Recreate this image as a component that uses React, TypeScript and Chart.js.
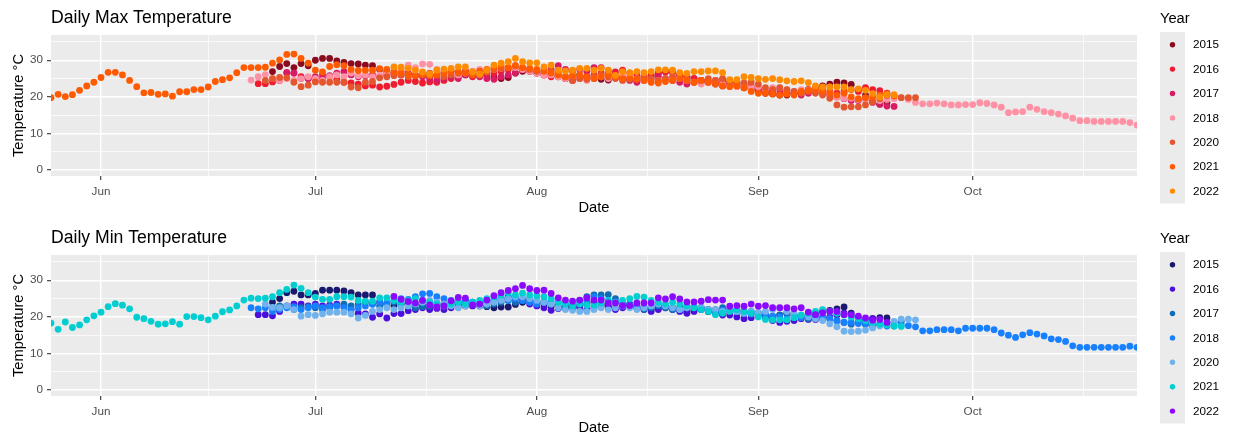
import React, { useEffect, useRef } from 'react';
import { Chart, registerables } from 'chart.js';

Chart.register(...registerables);

// ---- axis / legend labels ----
const years = ['2015', '2016', '2017', '2018', '2020', '2021', '2022'];
const maxColors = ['#8B0A1F', '#EE1C2E', '#D81B64', '#FF91A4', '#E4572E', '#FF5A00', '#FF8C00'];
const minColors = ['#191970', '#4B0FDC', '#0F6DB8', '#1780FF', '#6FB2EE', '#00CED1', '#8A0AFF'];

// x values are days counted from 1 June
const monthTickDays = [0, 30, 61, 92, 122];
const monthTickLabels = ['Jun', 'Jul', 'Aug', 'Sep', 'Oct'];
const minorTickDays = [15, 45.5, 76.5, 107, 137.5];
const tempTicks = [0, 10, 20, 30];
const tempMinorTicks = [5, 15, 25, 35];

// ---- Daily max temperature (°C), first day index then daily values ----
const max2015Start = 24;
const max2015 = [26.9, 28.3, 29.1, 28.0, 29.1, 28.5, 30.0, 30.5, 30.5, 29.8, 29.4, 29.1, 29.0, 28.7, 28.5, 27.5, 26.8, 26.5, 26.0, 26.2, 25.8, 26.0, 25.5, 25.8, 26.5, 27.0, 26.5, 27.0, 26.0, 25.8, 26.0, 25.3, 25.0, 25.3, 26.5, 27.0, 27.5, 27.0, 26.5, 26.0, 25.5, 25.0, 25.5, 26.0, 25.5, 25.0, 24.8, 24.6, 25.2, 25.5, 25.0, 24.5, 25.0, 25.8, 26.5, 27.0, 26.8, 26.0, 25.5, 25.0, 24.0, 24.2, 24.0, 23.8, 23.5, 23.0, 22.5, 22.0, 21.5, 21.0, 20.8, 20.5, 20.5, 21.0, 21.5, 22.0, 22.5, 23.0, 23.5, 24.0, 23.8, 23.4, 22.0, 20.5, 19.0, 18.0, 18.5];
const max2016Start = 22;
const max2016 = [23.6, 23.6, 24.1, 24.5, 26.5, 26.5, 25.5, 25.0, 24.5, 25.0, 25.5, 24.8, 24.0, 23.8, 23.5, 23.0, 23.2, 22.7, 22.9, 23.4, 24.0, 24.5, 24.2, 23.8, 24.1, 24.0, 24.5, 25.0, 25.5, 26.0, 25.5, 25.8, 26.0, 26.5, 27.0, 27.5, 27.8, 27.5, 27.0, 26.5, 26.0, 25.5, 25.8, 25.0, 24.5, 25.0, 25.5, 26.0, 26.5, 26.0, 26.8, 27.3, 26.5, 26.0, 25.5, 26.0, 26.5, 26.8, 27.0, 26.0, 25.5, 25.0, 24.5, 24.0, 24.5, 24.8, 24.5, 24.0, 23.5, 23.0, 22.5, 22.0, 21.5, 21.0, 20.8, 21.0, 21.5, 22.0, 22.5, 22.0, 21.5, 21.0, 21.5, 22.0, 21.5, 22.5, 22.0, 21.7, 21.0];
const max2017Start = 26;
const max2017 = [26.7, 26.5, 25.0, 25.0, 25.5, 26.0, 25.8, 26.5, 26.9, 26.0, 25.5, 25.8, 26.0, 25.5, 26.0, 26.5, 27.0, 26.5, 26.0, 25.5, 25.0, 24.5, 25.0, 25.5, 25.0, 26.0, 25.8, 25.5, 25.0, 24.8, 25.5, 26.0, 26.5, 27.5, 27.0, 26.5, 26.0, 27.5, 28.5, 27.5, 27.0, 27.5, 27.0, 28.0, 28.0, 27.0, 25.5, 25.0, 24.5, 24.0, 24.5, 25.0, 25.5, 25.0, 24.5, 24.0, 23.5, 24.0, 24.5, 24.0, 23.5, 23.0, 23.5, 23.8, 23.0, 22.5, 22.0, 21.5, 21.8, 22.0, 21.5, 21.0, 20.5, 21.0, 21.5, 21.0, 20.5, 20.0, 19.5, 19.0, 19.0, 19.5, 18.5, 18.0, 17.5, 17.4];
const max2018Start = 21;
const max2018 = [24.6, 25.5, 26.1, 25.0, 24.5, 25.0, 24.5, 25.0, 25.5, 25.0, 24.5, 25.5, 26.0, 25.5, 26.5, 25.8, 26.0, 25.5, 26.0, 26.5, 27.0, 27.5, 28.7, 28.0, 29.0, 28.9, 27.5, 27.0, 26.5, 26.0, 26.5, 27.0, 27.5, 27.0, 27.5, 27.8, 28.0, 28.0, 27.5, 27.0, 26.5, 26.0, 26.0, 25.5, 25.0, 25.5, 25.0, 24.5, 25.0, 25.5, 25.0, 25.5, 26.0, 25.5, 25.0, 24.5, 24.0, 24.5, 25.0, 25.5, 25.0, 24.5, 24.0, 23.5, 24.0, 24.5, 23.5, 23.0, 22.8, 23.0, 22.5, 22.8, 22.0, 22.5, 22.5, 22.0, 21.5, 22.0, 21.9, 21.7, 21.5, 21.0, 19.9, 19.6, 19.6, 19.3, 19.3, 19.5, 19.0, 19.3, 19.5, 19.8, 19.3, 18.5, 18.1, 18.1, 18.3, 18.1, 17.8, 17.8, 17.9, 17.9, 18.4, 18.2, 17.8, 17.2, 15.7, 15.9, 16.0, 17.2, 16.6, 16.0, 15.7, 15.3, 14.8, 14.2, 13.5, 13.5, 13.3, 13.3, 13.3, 13.3, 13.3, 13.0, 12.3];
const max2020Start = 23;
const max2020 = [24.5, 25.0, 25.3, 25.2, 24.0, 22.8, 23.2, 24.1, 24.0, 24.0, 24.0, 24.0, 22.7, 22.5, 24.0, 24.2, 25.2, 25.5, 25.8, 26.0, 25.5, 25.8, 26.0, 26.5, 26.0, 25.5, 26.0, 26.5, 27.0, 26.5, 26.0, 26.8, 27.5, 27.8, 28.0, 28.5, 28.0, 27.5, 27.0, 27.5, 27.0, 26.5, 25.5, 24.5, 25.0, 24.8, 25.5, 26.0, 25.5, 25.0, 24.5, 24.8, 25.0, 25.5, 25.0, 24.5, 25.0, 25.5, 25.0, 24.5, 24.0, 24.5, 25.0, 24.5, 25.0, 24.0, 23.5, 23.8, 24.0, 23.5, 22.5, 22.0, 22.5, 22.0, 21.5, 21.0, 21.5, 21.0, 20.5, 19.6, 17.8, 17.2, 17.3, 17.3, 17.8, 18.7, 19.5, 20.4, 20.3, 19.8, 19.8, 19.8];
const max2021Start = -7;
const max2021 = [19.8, 20.7, 20.1, 20.6, 21.8, 23.0, 24.0, 25.3, 26.7, 26.7, 26.0, 24.5, 22.8, 21.1, 21.2, 20.7, 20.8, 20.2, 21.4, 21.4, 22.0, 22.0, 22.7, 24.2, 24.7, 25.2, 26.6, 28.0, 28.0, 28.0, 28.1, 29.2, 30.1, 31.6, 31.7, 30.5, 29.2, 27.3, 26.8, 28.3, 28.8, 28.5, 27.5, 27.2, 27.3, 27.3, 27.7, 27.5, 26.8, 26.5, 26.0, 25.8, 26.2, 25.8, 26.0, 26.5, 27.0, 26.8, 26.5, 26.0, 27.0, 27.5, 28.0, 28.5, 28.0, 28.5, 28.0, 27.8, 27.5, 27.0, 26.5, 26.0, 25.5, 25.8, 26.0, 25.5, 25.0, 25.5, 26.0, 25.5, 25.0, 25.2, 24.8, 24.5, 24.0, 23.8, 24.2, 24.5, 25.0, 24.5, 24.0, 24.5, 24.0, 23.5, 23.0, 22.8, 23.0, 22.5, 21.5, 21.0, 21.0, 20.8, 20.5, 20.8, 20.5, 21.5, 21.8, 22.0, 21.5, 21.0, 20.5, 21.0, 20.0, 19.5, 19.8, 20.0, 20.5, 20.8, 20.3];
const max2022Start = 41;
const max2022 = [28.2, 28.1, 27.8, 27.3, 26.8, 26.2, 27.3, 27.6, 27.8, 28.2, 28.2, 26.8, 26.2, 27.3, 28.7, 29.2, 29.6, 30.5, 29.6, 29.3, 29.3, 28.2, 28.7, 27.3, 27.1, 27.3, 27.8, 27.8, 27.3, 27.8, 27.3, 25.9, 26.9, 26.6, 26.9, 26.6, 26.9, 27.4, 27.4, 27.3, 26.6, 26.4, 26.9, 26.9, 27.1, 27.1, 26.6, 24.7, 24.7, 25.5, 25.3, 25.0, 24.8, 25.0, 24.7, 24.4, 24.2, 24.4, 23.9, 23.0, 22.7, 22.7, 22.7, 22.7, 22.0, 22.2, 21.8, 20.9, 20.0, 20.6, 20.6];

// ---- Daily min temperature (°C) ----
const min2015Start = 24;
const min2015 = [24.0, 25.0, 26.6, 27.0, 26.0, 26.0, 26.4, 27.3, 27.3, 27.3, 27.1, 26.6, 26.0, 26.0, 26.0, 24.0, 23.5, 23.0, 23.5, 24.0, 23.5, 23.0, 22.5, 23.0, 23.5, 24.0, 23.5, 23.0, 23.5, 23.0, 22.8, 22.5, 22.7, 22.7, 23.4, 24.0, 24.5, 24.0, 23.5, 23.0, 22.5, 23.0, 22.5, 23.0, 23.5, 24.0, 23.5, 23.0, 22.5, 23.0, 23.5, 23.0, 22.5, 22.0, 22.5, 23.0, 22.5, 22.0, 21.5, 22.0, 22.5, 22.0, 21.5, 21.0, 21.5, 22.0, 21.5, 21.0, 20.8, 20.5, 20.0, 20.5, 21.0, 20.5, 20.0, 20.5, 21.0, 21.5, 21.8, 22.2, 22.7, 21.0, 19.5, 19.0, 19.5, 19.8, 19.7];
const min2016Start = 22;
const min2016 = [20.6, 20.6, 20.3, 21.5, 23.0, 23.5, 23.5, 23.0, 23.5, 23.0, 23.2, 23.5, 23.0, 22.0, 21.0, 20.8, 19.9, 20.8, 19.7, 20.9, 20.9, 21.7, 22.0, 22.5, 22.0, 22.3, 22.0, 22.5, 23.0, 23.5, 23.0, 23.5, 24.0, 24.5, 25.0, 25.5, 25.0, 24.5, 23.5, 23.0, 22.5, 21.8, 22.3, 22.5, 23.0, 22.5, 22.0, 22.5, 23.0, 22.5, 22.0, 22.5, 23.0, 22.5, 22.0, 21.5, 22.0, 22.5, 22.0, 21.5, 21.0, 21.5, 22.0, 21.5, 21.0, 20.5, 20.5, 20.0, 19.5, 19.8, 20.5, 20.0, 19.0, 18.5, 18.8, 19.0, 19.5, 19.3, 19.3, 19.5, 20.0, 20.5, 21.0, 20.0, 19.5, 19.0, 19.5];
const min2017Start = 24;
const min2017 = [22.5, 23.0, 22.8, 22.0, 22.5, 22.8, 22.5, 22.0, 22.5, 23.0, 23.5, 23.0, 23.5, 24.0, 23.5, 23.0, 23.5, 24.0, 23.5, 23.0, 22.5, 22.8, 23.0, 23.5, 23.0, 23.5, 24.0, 24.5, 24.0, 23.5, 23.0, 23.5, 24.0, 24.5, 24.0, 24.5, 25.0, 24.5, 24.0, 23.5, 23.0, 22.5, 23.0, 24.5, 25.5, 26.0, 26.0, 26.1, 25.0, 23.5, 23.0, 22.5, 22.0, 22.5, 23.0, 22.5, 22.0, 22.5, 23.0, 22.5, 22.0, 21.5, 22.0, 22.5, 22.0, 21.5, 21.0, 21.5, 21.0, 20.5, 20.0, 20.5, 21.0, 20.5, 20.0, 19.5, 19.8, 20.0, 19.5, 19.0, 18.5, 18.0, 18.5, 18.0, 17.5, 18.0, 17.8, 18.5, 18.8];
const min2018Start = 21;
const min2018 = [22.5, 22.2, 22.5, 21.5, 22.0, 22.5, 22.8, 22.0, 22.5, 23.0, 22.5, 22.8, 23.0, 22.5, 22.0, 22.5, 23.0, 23.5, 24.0, 23.8, 24.5, 25.0, 24.8, 25.5, 26.3, 26.4, 25.5, 25.0, 24.5, 24.0, 24.5, 24.0, 23.5, 24.0, 24.5, 25.0, 24.5, 25.0, 24.5, 24.0, 23.5, 24.0, 24.5, 24.0, 23.5, 23.0, 23.5, 24.5, 25.5, 25.0, 24.5, 24.0, 23.5, 23.5, 23.0, 22.5, 23.0, 23.5, 23.0, 22.5, 22.0, 22.5, 22.8, 22.5, 22.0, 21.5, 21.8, 22.0, 21.5, 21.0, 20.8, 21.0, 20.5, 20.2, 20.0, 19.5, 20.0, 19.8, 20.5, 20.2, 19.8, 19.5, 18.9, 18.5, 18.5, 18.2, 18.0, 17.8, 18.0, 17.5, 17.5, 17.8, 17.6, 17.3, 16.2, 16.2, 16.5, 16.5, 16.5, 16.2, 16.9, 16.9, 16.9, 16.9, 16.5, 15.6, 15.0, 14.4, 15.1, 15.7, 15.3, 14.8, 14.0, 13.8, 13.3, 12.1, 11.7, 11.7, 11.7, 11.7, 11.7, 11.7, 11.7, 12.0, 11.7];
const min2020Start = 23;
const min2020 = [23.5, 22.6, 22.5, 23.0, 22.0, 20.2, 20.6, 20.4, 20.8, 21.3, 21.3, 21.3, 20.8, 19.7, 20.4, 21.5, 22.0, 22.5, 22.0, 22.5, 23.0, 23.5, 24.0, 24.5, 24.0, 23.5, 23.0, 22.5, 23.0, 23.5, 23.0, 23.5, 24.0, 24.5, 25.0, 25.5, 25.5, 25.0, 24.5, 24.0, 23.5, 22.5, 22.0, 21.8, 21.5, 21.5, 22.0, 22.5, 22.0, 22.5, 23.0, 22.5, 22.0, 22.5, 23.0, 23.5, 23.0, 22.5, 22.0, 22.5, 23.0, 22.5, 22.0, 22.0, 21.5, 21.8, 21.5, 21.0, 21.5, 21.0, 21.5, 22.0, 22.4, 21.5, 21.0, 20.5, 20.0, 19.5, 19.0, 18.1, 17.3, 16.1, 16.0, 16.1, 16.4, 17.0, 17.5, 18.0, 18.8, 19.4, 19.4, 19.2];
const min2021Start = -7;
const min2021 = [18.3, 16.6, 18.6, 17.1, 17.8, 19.2, 20.3, 21.3, 22.8, 23.6, 23.2, 22.2, 19.9, 19.5, 18.8, 18.0, 18.1, 18.7, 18.0, 20.1, 20.1, 19.8, 19.2, 20.2, 21.4, 21.9, 23.0, 24.6, 25.1, 25.0, 25.1, 25.5, 26.6, 27.5, 28.7, 27.8, 26.6, 25.4, 24.8, 24.8, 25.5, 25.5, 25.4, 24.5, 24.3, 24.3, 25.2, 25.2, 24.5, 24.0, 24.5, 25.0, 24.5, 24.0, 23.5, 23.0, 23.5, 24.0, 23.5, 24.0, 24.5, 25.0, 25.5, 26.0, 26.5, 26.0, 26.5, 26.0, 25.8, 25.5, 25.0, 24.0, 23.5, 23.0, 23.5, 23.2, 23.2, 23.8, 24.5, 24.0, 24.5, 25.0, 25.6, 25.4, 24.5, 24.0, 23.5, 24.0, 23.5, 23.0, 22.5, 22.0, 21.5, 20.6, 21.0, 21.5, 22.0, 21.5, 21.0, 20.0, 19.3, 19.2, 19.2, 19.2, 19.8, 20.5, 21.0, 21.5, 22.0, 21.5, 21.0, 20.5, 20.0, 19.5, 19.0, 18.5, 18.0, 17.8, 17.5, 17.4];
const min2022Start = 41;
const min2022 = [25.6, 24.8, 24.2, 23.8, 24.5, 23.3, 22.7, 23.0, 24.4, 25.3, 25.1, 23.3, 23.5, 24.6, 25.8, 26.6, 27.2, 27.7, 28.6, 27.7, 27.2, 27.3, 26.4, 25.2, 24.6, 24.3, 24.6, 25.2, 24.6, 24.6, 23.8, 23.8, 23.1, 23.1, 23.8, 23.8, 23.8, 25.2, 24.9, 25.5, 24.9, 24.1, 24.1, 24.3, 24.7, 24.6, 24.6, 22.9, 23.1, 22.9, 23.5, 22.9, 23.1, 22.5, 22.5, 22.5, 22.2, 22.5, 21.3, 20.6, 21.1, 21.5, 21.5, 20.6, 20.6, 20.2, 19.7, 19.1, 19.3, 18.5];

const maxStarts = [max2015Start, max2016Start, max2017Start, max2018Start, max2020Start, max2021Start, max2022Start];
const maxSeries = [max2015, max2016, max2017, max2018, max2020, max2021, max2022];
const minStarts = [min2015Start, min2016Start, min2017Start, min2018Start, min2020Start, min2021Start, min2022Start];
const minSeries = [min2015, min2016, min2017, min2018, min2020, min2021, min2022];

const FONT = '"Liberation Sans", Arial, sans-serif';
const CANVAS_W = 1233;
const PANEL_LEFT = 51;
const PANEL_RIGHT = 1137;
const PANEL_TOP = 35;
const PANEL_BOTTOM = 176;

function isMajorX(v: number) {
  return monthTickDays.indexOf(v) >= 0;
}
function isMajorY(v: number) {
  return tempTicks.indexOf(v) >= 0;
}

type PanelProps = {
  title: string;
  starts: number[];
  series: number[][];
  colors: string[];
  height: number;
};

function Panel({ title, starts, series, colors, height }: PanelProps) {
  const ref = useRef<HTMLCanvasElement | null>(null);

  useEffect(() => {
    if (!ref.current) return;
    const datasets = series.map((vals, i) => ({
      label: years[i],
      data: vals.map((v, k) => ({ x: starts[i] + k, y: v })),
      backgroundColor: colors[i],
      borderColor: colors[i],
      pointRadius: 3.4,
      pointBorderWidth: 0,
      pointHoverRadius: 3.4,
      showLine: false,
      order: series.length - i,
    }));

    const decor = {
      id: 'ggdecor',
      beforeDraw(chart: any) {
        const { ctx, chartArea } = chart;
        ctx.save();
        ctx.fillStyle = '#FFFFFF';
        ctx.fillRect(0, 0, chart.width, chart.height);
        ctx.fillStyle = '#EBEBEB';
        ctx.fillRect(chartArea.left, chartArea.top, chartArea.right - chartArea.left, chartArea.bottom - chartArea.top);
        ctx.restore();
      },
      afterDraw(chart: any) {
        const { ctx, chartArea } = chart;
        ctx.save();
        // title
        ctx.fillStyle = '#000000';
        ctx.font = `17.6px ${FONT}`;
        ctx.textAlign = 'left';
        ctx.textBaseline = 'middle';
        ctx.fillText(title, chartArea.left, 18.5);
        // axis titles
        ctx.font = `14.7px ${FONT}`;
        ctx.textAlign = 'center';
        ctx.fillText('Date', (chartArea.left + chartArea.right) / 2, 208);
        ctx.save();
        ctx.translate(18.5, (chartArea.top + chartArea.bottom) / 2);
        ctx.rotate(-Math.PI / 2);
        ctx.fillText('Temperature °C', 0, 0);
        ctx.restore();
        // legend
        ctx.textAlign = 'left';
        ctx.fillText('Year', 1160, 18.5);
        ctx.fillStyle = '#EBEBEB';
        ctx.fillRect(1160, 32, 25, 171.5);
        ctx.font = `11.7px ${FONT}`;
        years.forEach((y, i) => {
          const cy = 44.7 + i * 24.4;
          ctx.fillStyle = colors[i];
          ctx.beginPath();
          ctx.arc(1172.5, cy, 2.7, 0, Math.PI * 2);
          ctx.fill();
          ctx.fillStyle = '#000000';
          ctx.fillText(y, 1193, cy + 0.5);
        });
        ctx.restore();
      },
    };

    const chart = new Chart(ref.current, {
      type: 'scatter',
      data: { datasets },
      options: {
        animation: false,
        responsive: false,
        maintainAspectRatio: false,
        events: [],
        layout: { padding: { top: PANEL_TOP, right: CANVAS_W - PANEL_RIGHT, left: 0, bottom: 0 } },
        plugins: {
          legend: { display: false },
          title: { display: false },
          tooltip: { enabled: false },
        },
        scales: {
          x: {
            type: 'linear',
            min: -7,
            max: 145,
            afterBuildTicks: (scale: any) => {
              scale.ticks = [...monthTickDays, ...minorTickDays].sort((a, b) => a - b).map((v) => ({ value: v }));
            },
            afterFit: (scale: any) => {
              scale.height = height - PANEL_BOTTOM;
            },
            ticks: {
              autoSkip: false,
              maxRotation: 0,
              minRotation: 0,
              padding: 5,
              color: '#4D4D4D',
              font: { family: FONT, size: 11.7 },
              callback: (v: any) => {
                const idx = monthTickDays.indexOf(Number(v));
                return idx >= 0 ? monthTickLabels[idx] : '';
              },
            },
            grid: {
              color: '#FFFFFF',
              lineWidth: (c: any) => (c.tick && isMajorX(c.tick.value) ? 1.4 : 0.7),
              drawTicks: true,
              tickLength: 4,
              tickWidth: 1.1,
              tickColor: (c: any) => (c.tick && isMajorX(c.tick.value) ? '#333333' : 'rgba(0,0,0,0)'),
            },
            border: { display: false },
          },
          y: {
            type: 'linear',
            min: -1.6,
            max: 36.9,
            afterBuildTicks: (scale: any) => {
              scale.ticks = [...tempTicks, ...tempMinorTicks].sort((a, b) => a - b).map((v) => ({ value: v }));
            },
            afterFit: (scale: any) => {
              scale.width = PANEL_LEFT;
            },
            ticks: {
              autoSkip: false,
              padding: 4,
              color: '#4D4D4D',
              font: { family: FONT, size: 11.7 },
              callback: (v: any) => (isMajorY(Number(v)) ? String(v) : ''),
            },
            grid: {
              color: '#FFFFFF',
              lineWidth: (c: any) => (c.tick && isMajorY(c.tick.value) ? 1.4 : 0.7),
              drawTicks: true,
              tickLength: 4,
              tickWidth: 1.1,
              tickColor: (c: any) => (c.tick && isMajorY(c.tick.value) ? '#333333' : 'rgba(0,0,0,0)'),
            },
            border: { display: false },
          },
        },
      },
      plugins: [decor],
    } as any);

    return () => chart.destroy();
  }, [title, starts, series, colors, height]);

  return <canvas ref={ref} width={CANVAS_W} height={height} style={{ display: 'block', width: CANVAS_W, height }} />;
}

export default function App() {
  return (
    <div style={{ position: 'fixed', left: 0, top: 0, width: 1233, height: 437, background: '#FFFFFF', overflow: 'hidden' }}>
      <div style={{ position: 'absolute', left: 0, top: 0 }}>
        <Panel title="Daily Max Temperature" starts={maxStarts} series={maxSeries} colors={maxColors} height={220} />
      </div>
      <div style={{ position: 'absolute', left: 0, top: 220 }}>
        <Panel title="Daily Min Temperature" starts={minStarts} series={minSeries} colors={minColors} height={217} />
      </div>
    </div>
  );
}
